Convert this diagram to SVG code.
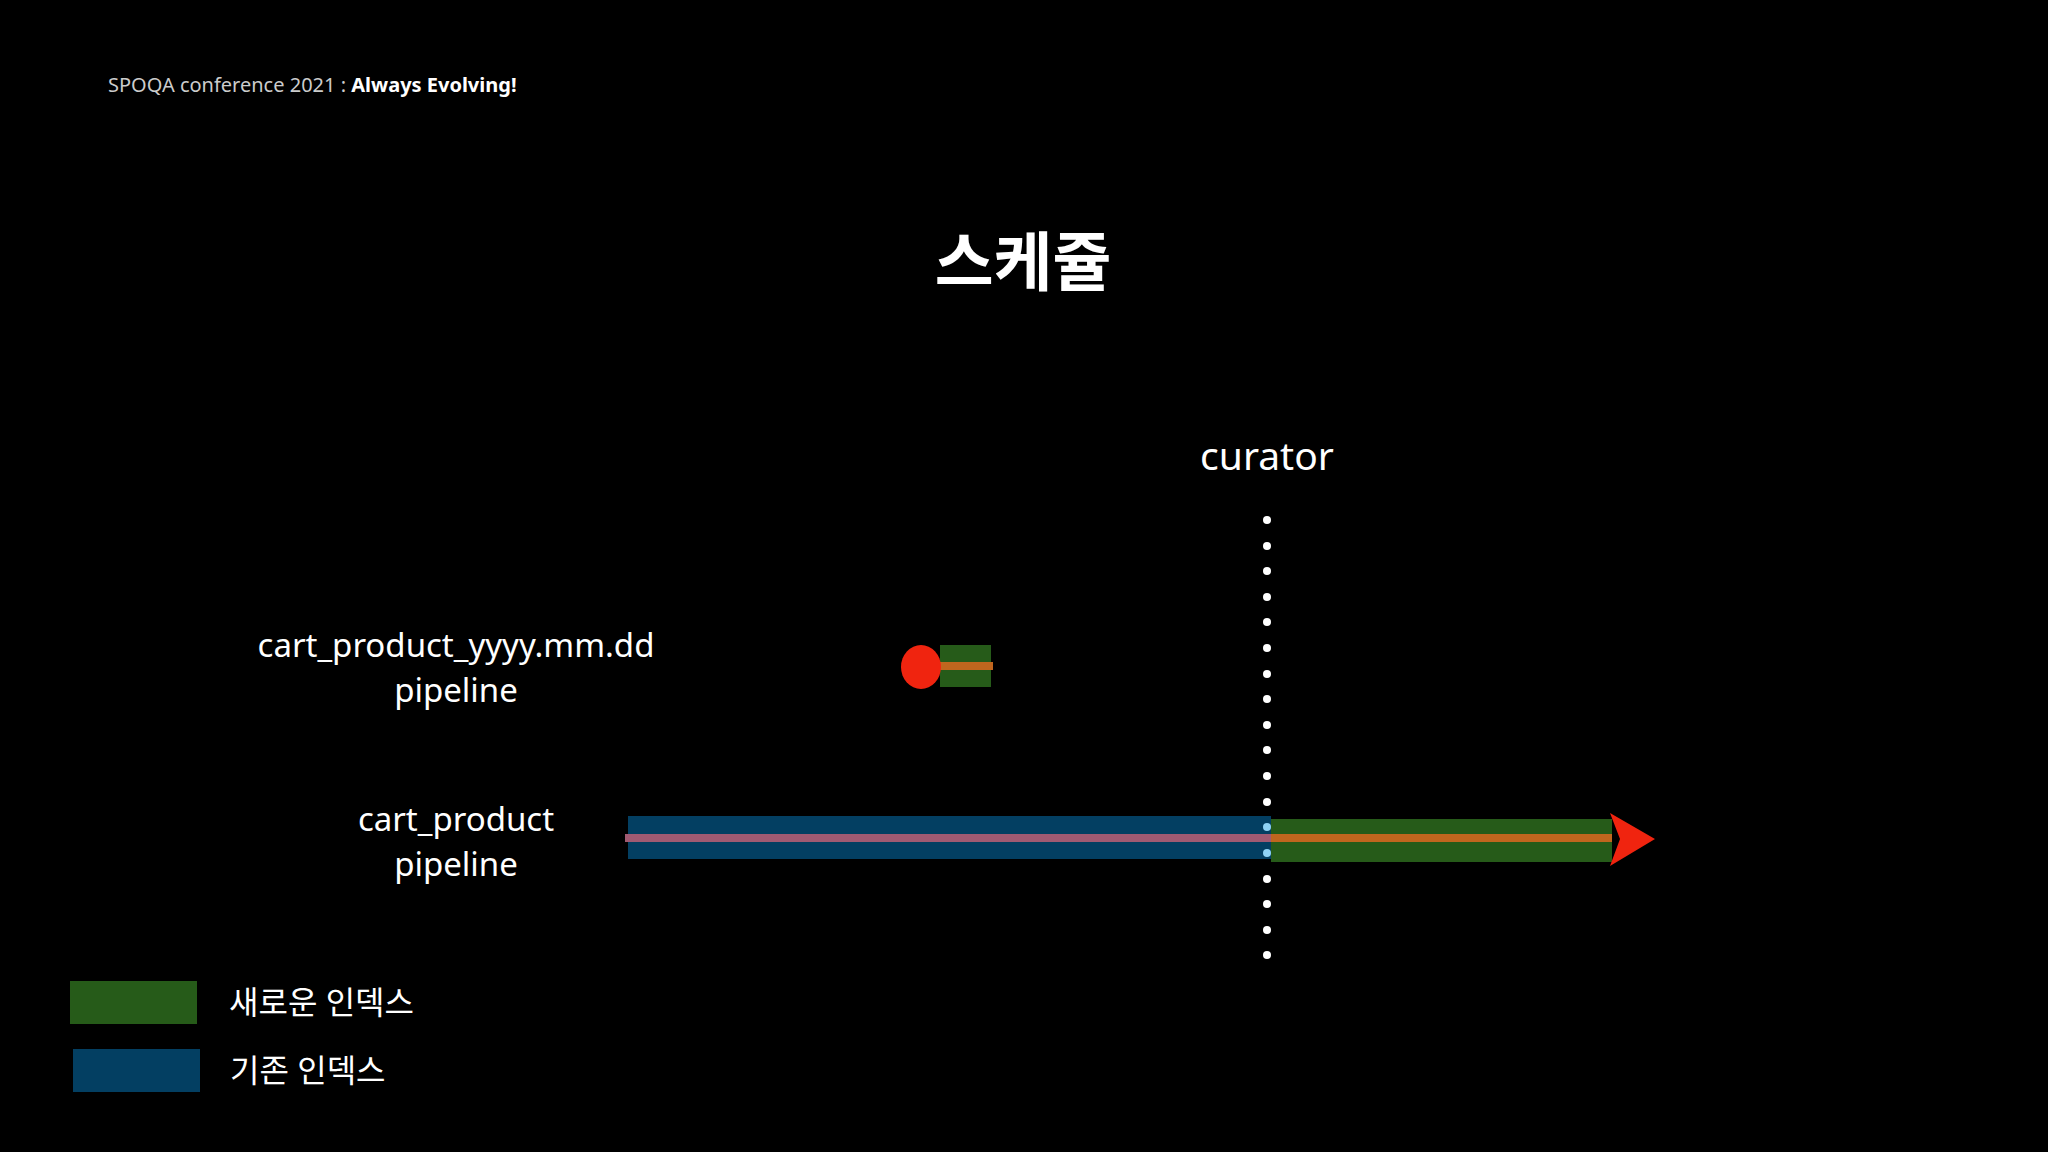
<svg xmlns="http://www.w3.org/2000/svg" width="2048" height="1152" viewBox="0 0 2048 1152">
<style>
.t{font-family:"Noto Sans","Noto Sans CJK KR",sans-serif;fill:#fff}
.lbl{font-size:33px;text-anchor:middle}
.dot{fill:#fff}
</style>
<rect width="2048" height="1152" fill="#000"/>
<text class="t" x="108" y="92" font-size="20" fill="#ccc" style="fill:#ccc">SPOQA conference 2021 : <tspan font-weight="bold" style="fill:#fff">Always Evolving!</tspan></text>
<text class="t" x="1023" y="285" font-size="64" font-weight="bold" text-anchor="middle">스케쥴</text>
<g id="curator">
<text class="t" x="1267" y="470" font-size="39" text-anchor="middle">curator</text>
<g class="dot">
<circle cx="1267" cy="520" r="4"/><circle cx="1267" cy="546" r="4"/><circle cx="1267" cy="571" r="4"/><circle cx="1267" cy="597" r="4"/><circle cx="1267" cy="622" r="4"/><circle cx="1267" cy="648" r="4"/><circle cx="1267" cy="674" r="4"/><circle cx="1267" cy="699" r="4"/><circle cx="1267" cy="725" r="4"/><circle cx="1267" cy="750" r="4"/><circle cx="1267" cy="776" r="4"/><circle cx="1267" cy="802" r="4"/><circle cx="1267" cy="879" r="4"/><circle cx="1267" cy="904" r="4"/><circle cx="1267" cy="930" r="4"/><circle cx="1267" cy="955" r="4"/>
</g>
</g>
<g id="new-pipeline">
<text class="t lbl" x="456" y="657">cart_product_yyyy.mm.dd</text>
<text class="t lbl" x="456" y="702">pipeline</text>
<rect x="940" y="645" width="51" height="42" fill="#265b19"/>
<rect x="940" y="662" width="53" height="8" fill="#c0661e"/>
<ellipse cx="921" cy="667" rx="20" ry="22" fill="#f0240f"/>
</g>
<g id="pipeline">
<text class="t lbl" x="456" y="831">cart_product</text>
<text class="t lbl" x="456" y="876">pipeline</text>
<rect x="628" y="816" width="643" height="43" fill="#033f62"/>
<rect x="1271" y="819" width="341" height="43" fill="#265b19"/>
<rect x="625" y="834" width="646" height="8" fill="#a05a72"/>
<rect x="1271" y="834" width="341" height="8" fill="#c0661e"/>
<polygon points="1610,813 1655,839 1610,866 1620,839" fill="#f0240f"/>
<circle cx="1267" cy="827" r="4" fill="#8fd3f5"/>
<circle cx="1267" cy="853" r="4" fill="#8fd3f5"/>
</g>
<g id="legend">
<rect x="70" y="981" width="127" height="43" fill="#265b19"/>
<text class="t" x="229" y="1014" font-size="32">새로운 인덱스</text>
<rect x="73" y="1049" width="127" height="43" fill="#033f62"/>
<text class="t" x="230" y="1082" font-size="32">기존 인덱스</text>
</g>
</svg>
